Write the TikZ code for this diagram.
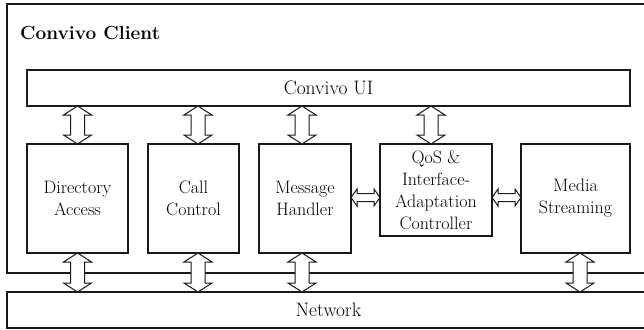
\documentclass[tikz,border=0pt]{standalone}
\usetikzlibrary{calc}

\tikzset{
  block/.style={draw=black!90, line width=1.2pt, fill=white, inner sep=0pt, outer sep=0pt,
    anchor=north west, align=center, font=\fontsize{18}{22}\selectfont},
  bar/.style={block, font=\fontsize{19.5}{22}\selectfont},
  % hollow double arrow, top to bottom
  vlink/.style={draw=black!90, line width=1pt, fill=white,
    to path={let \p1=(\tikztostart), \p2=(\tikztotarget) in
      (\x1,\y1) -- (\x1+14pt,\y1-9pt) -- (\x1+7pt,\y1-9pt) -- (\x1+7pt,\y2+9pt)
      -- (\x1+14pt,\y2+9pt) -- (\x1,\y2) -- (\x1-14pt,\y2+9pt) -- (\x1-7pt,\y2+9pt)
      -- (\x1-7pt,\y1-9pt) -- (\x1-14pt,\y1-9pt) -- cycle}},
  % hollow double arrow, left to right
  hlink/.style={draw=black!90, line width=1pt, fill=white,
    to path={let \p1=(\tikztostart), \p2=(\tikztotarget) in
      (\x1,\y1) -- (\x1+6pt,\y1+8.5pt) -- (\x1+6pt,\y1+4pt) -- (\x2-6pt,\y1+4pt)
      -- (\x2-6pt,\y1+8.5pt) -- (\x2,\y1) -- (\x2-6pt,\y1-8.5pt) -- (\x2-6pt,\y1-4pt)
      -- (\x1+6pt,\y1-4pt) -- (\x1+6pt,\y1-8.5pt) -- cycle}},
}

\begin{document}
\begin{tikzpicture}[x=1pt,y=-1pt]
\clip (0,0) rectangle (644,329);
\fill[white] (0,0) rectangle (644,329);

\node[block, minimum width=643pt, minimum height=269pt] (client) at (7,4) {};
\node[font=\bfseries\fontsize{19}{24}\selectfont, anchor=base west, inner sep=0pt] (title) at (20,40) {Convivo Client};

\node[bar, minimum width=603pt, minimum height=36pt] (ui) at (27,70) {Convivo UI};

\node[block, minimum width=101pt, minimum height=109pt] (dir) at (27,144) {Directory\\Access};
\node[block, minimum width=91pt, minimum height=109pt] (call) at (148,144) {Call\\Control};
\node[block, minimum width=92pt, minimum height=109pt] (msg) at (259,144) {Message\\Handler};
\node[block, minimum width=112pt, minimum height=92pt] (qos) at (380,144) {QoS \&\\Interface-\\Adaptation\\Controller};
\node[block, minimum width=109pt, minimum height=109pt] (media) at (521,144) {Media\\Streaming};

\node[bar, minimum width=643pt, minimum height=36pt] (net) at (7,292) {Network};

% UI to modules
\draw[vlink] (dir.north |- ui.south) to (dir.north);
\draw[vlink] ($(call.north |- ui.south)+(4.5,0)$) to ($(call.north)+(4.5,0)$);
\draw[vlink] ($(msg.north |- ui.south)+(-3,0)$) to ($(msg.north)+(-3,0)$);
\draw[vlink] ($(qos.north |- ui.south)+(-5,0)$) to ($(qos.north)+(-5,0)$);

% modules to network
\draw[vlink] (dir.south) to (dir.south |- net.north);
\draw[vlink] ($(call.south)+(4.5,0)$) to ($(call.south |- net.north)+(4.5,0)$);
\draw[vlink] ($(msg.south)+(-3,0)$) to ($(msg.south |- net.north)+(-3,0)$);
\draw[vlink] ($(media.south)+(4.5,0)$) to ($(media.south |- net.north)+(4.5,0)$);

% side links
\draw[hlink] ($(msg.east)+(0,-1)$) to ($(msg.east -| qos.west)+(0,-1)$);
\draw[hlink] ($(qos.east |- msg.east)+(0,-1)$) to ($(media.west |- msg.east)+(0,-1)$);
\end{tikzpicture}
\end{document}
